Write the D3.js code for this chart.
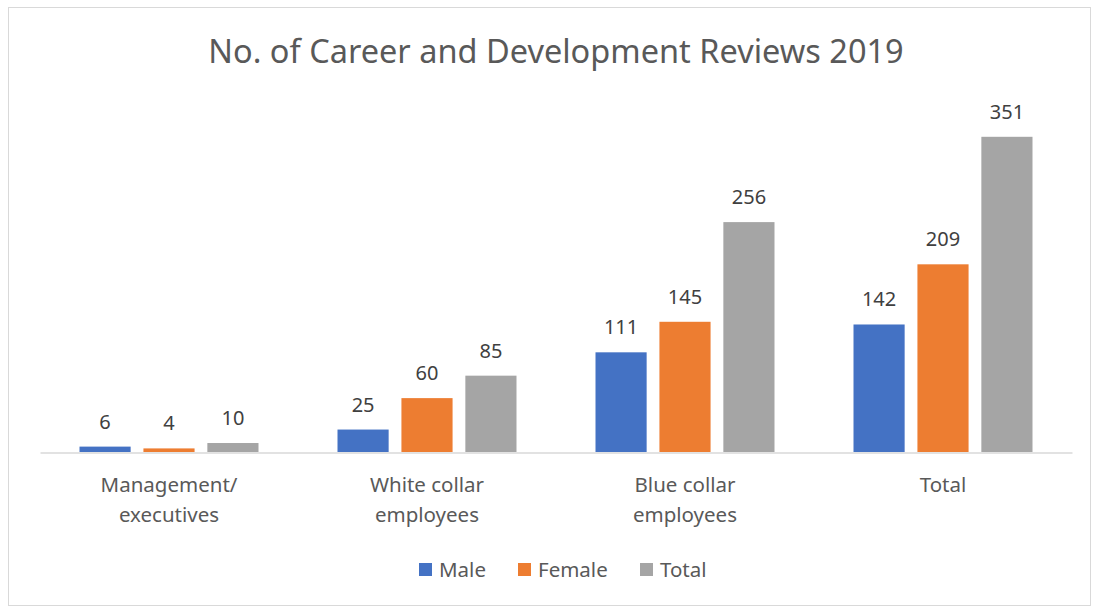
<!DOCTYPE html>
<html><head><meta charset="utf-8">
<script src="https://cdn.jsdelivr.net/npm/d3@7"></script>
<style>body{margin:0;background:#fff}svg{display:block}text{font-family:"Noto Sans",sans-serif}</style>
</head><body>
<svg id="c" width="1098" height="606"></svg>
<script>
const title = "No. of Career and Development Reviews 2019";
const categories = [["Management/","executives"],["White collar","employees"],["Blue collar","employees"],["Total"]];
const seriesNames = ["Male","Female","Total"];
const colors = ["#4472C4","#ED7D31","#A5A5A5"];
const male = [6,25,111,142];
const female = [4,60,145,209];
const total = [10,85,256,351];
const seriesValues = [male, female, total];

const svg = d3.select("#c");
svg.append("rect").attr("x",8.5).attr("y",7.5).attr("width",1082).attr("height",598).attr("fill","#fff").attr("stroke","#d9d9d9");

svg.append("text").attr("x",556).attr("y",63).attr("text-anchor","middle")
  .attr("font-size",32.5).attr("fill","#595959").text(title);

const catIdx = categories.map((d,i)=>i);
const x0 = d3.scaleBand().domain(catIdx).range([40,1072]);
const x1 = d3.scaleBand().domain(seriesNames).range([39.5, 218.5]).paddingInner(0.2);
const y = d3.scaleLinear().domain([0,400]).range([452, 452-400*0.898]);

const g = svg.append("g");
catIdx.forEach(ci=>{
  seriesNames.forEach((s,si)=>{
    const v = seriesValues[si][ci];
    const bx = x0(ci)+x1(s);
    g.append("rect").attr("x",bx).attr("y",y(v)).attr("width",x1.bandwidth()).attr("height",y(0)-y(v)).attr("fill",colors[si]);
    g.append("text").attr("x",bx+x1.bandwidth()/2).attr("y",y(v)-18).attr("text-anchor","middle")
      .attr("font-size",20).attr("fill","#404040").text(v);
  });
});

const xAxis = d3.axisBottom(x0).tickSize(0).tickFormat("");
const ax = svg.append("g").attr("transform","translate(0,452.5)").call(xAxis);
ax.select(".domain").attr("stroke","#d9d9d9").attr("stroke-width",1.5);

catIdx.forEach(ci=>{
  const t = svg.append("text").attr("text-anchor","middle").attr("font-size",20.5).attr("fill","#595959");
  categories[ci].forEach((line,li)=>{
    t.append("tspan").attr("x",x0(ci)+x0.bandwidth()/2).attr("y",492+li*30).text(line);
  });
});

const legendX = [419,518,640];
seriesNames.forEach((s,si)=>{
  svg.append("rect").attr("x",legendX[si]).attr("y",563).attr("width",13).attr("height",13).attr("fill",colors[si]);
  svg.append("text").attr("x",legendX[si]+20).attr("y",577).attr("font-size",20.5).attr("fill","#595959").text(s);
});
</script>
</body></html>
